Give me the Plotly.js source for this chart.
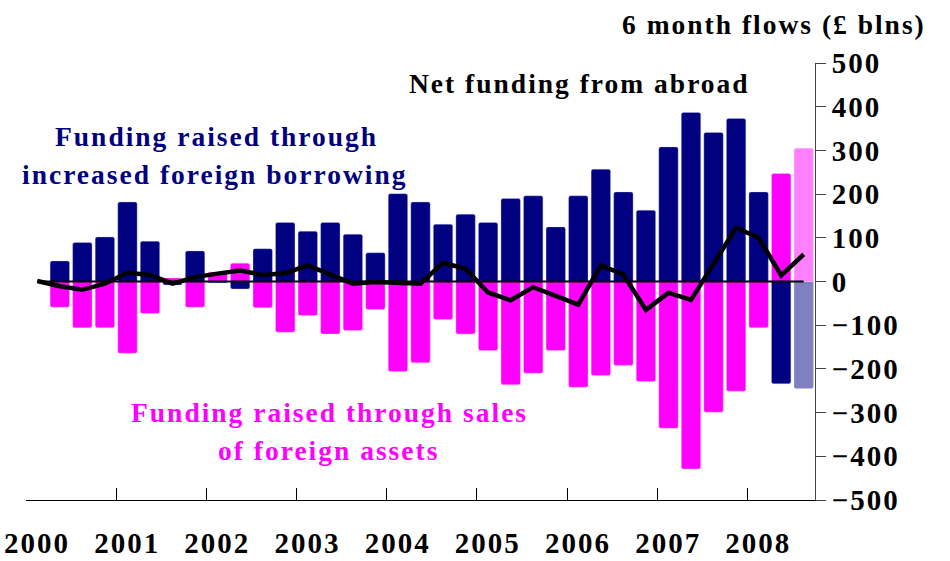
<!DOCTYPE html>
<html>
<head>
<meta charset="utf-8">
<script src="https://cdn.plot.ly/plotly-3.0.1.min.js"></script>
<style>
  html, body { margin: 0; padding: 0; background: #fff; }
  #chart { width: 950px; height: 561px; }
  #chart svg text { letter-spacing: 2px; }
</style>
</head>
<body>
<div id="chart"></div>
<script>
// Quarterly categories, 2000 Q1 .. 2008 Q3
const quarters = [
  "2000 Q1","2000 Q2","2000 Q3","2000 Q4",
  "2001 Q1","2001 Q2","2001 Q3","2001 Q4",
  "2002 Q1","2002 Q2","2002 Q3","2002 Q4",
  "2003 Q1","2003 Q2","2003 Q3","2003 Q4",
  "2004 Q1","2004 Q2","2004 Q3","2004 Q4",
  "2005 Q1","2005 Q2","2005 Q3","2005 Q4",
  "2006 Q1","2006 Q2","2006 Q3","2006 Q4",
  "2007 Q1","2007 Q2","2007 Q3","2007 Q4",
  "2008 Q1","2008 Q2","2008 Q3"
];
const yearLabels = ["2000","2001","2002","2003","2004","2005","2006","2007","2008"];

// Funding raised through increased foreign borrowing (£ bn, 6 month flows)
const foreignBorrowing = [
  null, 47, 89, 102, 182, 92, -8, 70, -3, -17, 75, 135,
  115, 135, 108, 66, 201, 182, 131, 154, 135, 190, 196, 125,
  196, 257, 205, 163, 308, 387, 341, 373, 205, -234, -245
];
// Funding raised through sales of foreign assets (£ bn)
const assetSales = [
  null, -59, -106, -106, -164, -73, 8, -59, 22, 42, -60, -116,
  -78, -120, -112, -64, -206, -186, -87, -120, -158, -236, -210, -158,
  -242, -215, -192, -229, -336, -429, -299, -251, -106, 247, 305
];
// Net funding from abroad (£ bn)
const netFunding = [
  1, -11, -19, -5, 20, 15, -5, 10, 18, 25, 15, 19,
  37, 17, -5, -1, -4, -5, 43, 29, -25, -43, -13, -32,
  -53, 37, 16, -65, -26, -42, 42, 123, 100, 14, 62
];
const zeroLine = quarters.map(() => 0);

const NAVY = "#000080", MAGENTA = "#FF00FF";
const NAVY_LIGHT = "#8080C0", MAGENTA_LIGHT = "#FF80FF";
const last = quarters.length - 1;

const font = "'Liberation Serif', 'Times New Roman', serif";

const traces = [
  {
    type: "bar", x: quarters, y: foreignBorrowing, name: "Foreign borrowing",
    marker: { color: quarters.map((q, i) => i === last ? NAVY_LIGHT : NAVY),
              line: { color: "rgba(200,200,230,0.6)", width: 0.6 }, cornerradius: 2 },
    hoverinfo: "x+y"
  },
  {
    type: "bar", x: quarters, y: assetSales, name: "Sales of foreign assets",
    marker: { color: quarters.map((q, i) => i === last ? MAGENTA_LIGHT : MAGENTA),
              line: { color: "rgba(255,200,255,0.6)", width: 0.6 }, cornerradius: 2 },
    hoverinfo: "x+y"
  },
  {
    type: "scatter", mode: "lines", x: quarters, y: zeroLine, name: "zero",
    line: { color: "#000", width: 2 }, hoverinfo: "skip"
  },
  {
    type: "scatter", mode: "lines", x: quarters, y: netFunding, name: "Net funding from abroad",
    line: { color: "#000", width: 4.5 }
  }
];

const tickFont = { family: font, size: 29, color: "#000", weight: "bold" };
const annFont = (c) => ({ family: font, size: 27.5, color: c, weight: "bold" });

// year boundaries (half a category before each Q1)
const yearBoundaries = yearLabels.map(y => quarters.indexOf(y + " Q1") - 0.5);

const layout = {
  width: 950, height: 561,
  margin: { l: 26, r: 135, t: 63, b: 61 },
  paper_bgcolor: "#fff", plot_bgcolor: "#fff",
  showlegend: false,
  barmode: "relative",
  bargap: 0.14,
  xaxis: {
    type: "category",
    range: [-0.5, quarters.length - 0.5],
    tickmode: "array",
    tickvals: yearBoundaries,
    ticktext: yearLabels,
    ticklabelshift: 11,
    tickangle: 0,
    ticks: "inside", ticklen: 12, tickcolor: "#000", tickwidth: 1,
    showline: true, linecolor: "#000", linewidth: 1,
    showgrid: false, zeroline: false,
    tickfont: tickFont,
    ticklabelstandoff: 17,
    fixedrange: true
  },
  yaxis: {
    side: "right",
    range: [-500, 500],
    tickmode: "linear", tick0: 0, dtick: 100,
    ticks: "outside", ticklen: 10, tickcolor: "#444", tickwidth: 1,
    showline: true, linecolor: "#444", linewidth: 1,
    showgrid: false, zeroline: false,
    tickfont: tickFont,
    fixedrange: true
  },
  annotations: [
    { text: "6 month flows (£ blns)", xref: "paper", yref: "paper", x: 0.948, y: 1.089,
      xanchor: "center", yanchor: "middle", showarrow: false, font: annFont("#000") },
    { text: "Net funding from abroad", xref: "paper", yref: "paper", x: 0.701, y: 0.953,
      xanchor: "center", yanchor: "middle", showarrow: false, font: annFont("#000") },
    { text: "Funding raised through", xref: "paper", yref: "paper", x: 0.242, y: 0.831,
      xanchor: "center", yanchor: "middle", showarrow: false, font: annFont(NAVY) },
    { text: "increased foreign borrowing", xref: "paper", yref: "paper", x: 0.240, y: 0.745,
      xanchor: "center", yanchor: "middle", showarrow: false, font: annFont(NAVY) },
    { text: "Funding raised through sales", xref: "paper", yref: "paper", x: 0.385, y: 0.201,
      xanchor: "center", yanchor: "middle", showarrow: false, font: annFont(MAGENTA) },
    { text: "of foreign assets", xref: "paper", yref: "paper", x: 0.384, y: 0.114,
      xanchor: "center", yanchor: "middle", showarrow: false, font: annFont(MAGENTA) }
  ]
};

Plotly.newPlot("chart", traces, layout, { displayModeBar: false, staticPlot: true });
</script>
</body>
</html>
